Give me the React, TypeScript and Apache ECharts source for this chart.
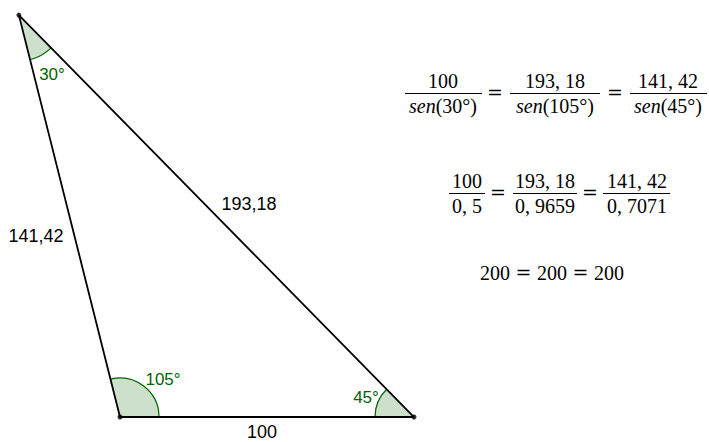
import React, { useEffect, useRef } from "react";
import * as echarts from "echarts";

// Triangle vertices (A top, B bottom-left, C bottom-right), in plot units
const vertexNames = ["A", "B", "C"];
const vertexX = [-34.4, 0, 100];
const vertexY = [136.7, 0, 0];
// Angle labels at A, B, C
const angleLabels = ["30°", "105°", "45°"];
// Side lengths labels
const sideAB = "141,42";
const sideAC = "193,18";
const sideBC = "100";

// Law of sines rows
const row1Num = ["100", "193, 18", "141, 42"];
const row1Den = ["30°", "105°", "45°"];
const row2Num = ["100", "193, 18", "141, 42"];
const row2Den = ["0, 5", "0, 9659", "0, 7071"];
const row3 = ["200", "200", "200"];

const ANGLE_R = [46, 39, 39];
const GREEN = "#006400";
const SERIF = "'Liberation Serif', 'Times New Roman', serif";
const EQ_FONT = "'DejaVu Serif', serif";
const SANS = "'Liberation Sans', Arial, sans-serif";

function txt(text: string, x: number, y: number, size: number, family: string, fill = "#000", extra: any = {}) {
  return {
    type: "text",
    x,
    y,
    silent: true,
    style: {
      text,
      fontSize: size,
      fontFamily: family,
      fill,
      align: "center",
      verticalAlign: "middle",
      ...extra,
    },
  };
}

function bar(x1: number, x2: number, y: number) {
  return {
    type: "line",
    silent: true,
    shape: { x1, y1: y, x2, y2: y },
    style: { stroke: "#000", lineWidth: 1 },
  };
}

export default function App() {
  const ref = useRef<HTMLDivElement>(null);
  useEffect(() => {
    if (!ref.current) return;
    const chart = echarts.init(ref.current, null, { renderer: "svg" });

    const graphics: any[] = [];
    // side labels
    graphics.push(txt(sideAB, 36, 236, 18, SANS));
    graphics.push(txt(sideAC, 249, 204, 18, SANS));
    graphics.push(txt(sideBC, 262, 432, 18, SANS));
    // angle labels
    graphics.push(txt(angleLabels[0], 52, 74, 17, SANS, GREEN));
    graphics.push(txt(angleLabels[1], 163, 379, 17, SANS, GREEN));
    graphics.push(txt(angleLabels[2], 366, 397, 17, SANS, GREEN));

    // Row 1
    const r1c = [443, 555, 668];
    const r1w = [[405, 482], [510, 600], [630, 707]];
    r1c.forEach((c, i) => {
      graphics.push(txt(row1Num[i], c, 81, 20, SERIF));
      graphics.push(bar(r1w[i][0], r1w[i][1], 93.5));
      graphics.push(
        txt("{i|sen}(" + row1Den[i] + ")", c, 105.5, 20, SERIF, "#000", {
          rich: { i: { fontStyle: "italic", fontSize: 20, fontFamily: SERIF } },
        })
      );
    });
    graphics.push(txt("=", 495, 92, 19, EQ_FONT));
    graphics.push(txt("=", 615, 92, 19, EQ_FONT));

    // Row 2
    const r2c = [467, 545, 637];
    const r2w = [[449, 485], [513, 577], [603, 670]];
    r2c.forEach((c, i) => {
      graphics.push(txt(row2Num[i], c, 181, 20, SERIF));
      graphics.push(bar(r2w[i][0], r2w[i][1], 193.5));
      graphics.push(txt(row2Den[i], c, 205.5, 20, SERIF));
    });
    graphics.push(txt("=", 498, 192, 19, EQ_FONT));
    graphics.push(txt("=", 590, 192, 19, EQ_FONT));

    // Row 3
    const r3c = [495, 552, 609];
    r3c.forEach((c, i) => graphics.push(txt(row3[i], c, 273, 20, SERIF)));
    graphics.push(txt("=", 523.5, 272, 19, EQ_FONT));
    graphics.push(txt("=", 580.5, 272, 19, EQ_FONT));

    // path: B -> C -> A -> B
    const triPath = [1, 2, 0, 1].map((i) => [vertexX[i], vertexY[i]]);

    const option: any = {
      animation: false,
      grid: { left: 0, right: 0, top: 0, bottom: 0 },
      xAxis: { type: "value", min: -40.82, max: 200.34, show: false },
      yAxis: { type: "value", min: -8.5, max: 141.84, show: false },
      series: [
        {
          type: "custom",
          z: 1,
          silent: true,
          data: vertexX.map((x, i) => [x, vertexY[i]]),
          encode: { x: 0, y: 1 },
          renderItem: (params: any, api: any) => {
            const i = params.dataIndex;
            const j = (i + 1) % 3;
            const k = (i + 2) % 3;
            const p = api.coord([vertexX[i], vertexY[i]]);
            const pj = api.coord([vertexX[j], vertexY[j]]);
            const pk = api.coord([vertexX[k], vertexY[k]]);
            const a1 = Math.atan2(pj[1] - p[1], pj[0] - p[0]);
            const a2 = Math.atan2(pk[1] - p[1], pk[0] - p[0]);
            const TWO = Math.PI * 2;
            const d = (((a2 - a1) % TWO) + TWO) % TWO;
            let s: number, e: number;
            if (d < Math.PI) {
              s = a1;
              e = a1 + d;
            } else {
              s = a2;
              e = a2 + (TWO - d);
            }
            const r = ANGLE_R[i];
            return {
              type: "group",
              children: [
                {
                  type: "sector",
                  shape: { cx: p[0], cy: p[1], r0: 0, r, startAngle: s, endAngle: e, clockwise: true },
                  style: { fill: "rgba(0,100,0,0.2)", stroke: "none" },
                },
                {
                  type: "arc",
                  shape: { cx: p[0], cy: p[1], r, startAngle: s, endAngle: e, clockwise: true },
                  style: { stroke: GREEN, lineWidth: 1.2, fill: "none" },
                },
              ],
            };
          },
        },
        {
          type: "line",
          z: 2,
          silent: true,
          data: triPath,
          symbol: "none",
          lineStyle: { color: "#000", width: 1.8 },
        },
        {
          type: "scatter",
          z: 3,
          silent: true,
          data: vertexX.map((x, i) => [x, vertexY[i], vertexNames[i]]),
          symbol: "circle",
          symbolSize: 5,
          itemStyle: { color: "#000" },
        },
      ],
      graphic: graphics,
    };
    chart.setOption(option);
    return () => chart.dispose();
  }, []);
  return (
    <div
      ref={ref}
      style={{ position: "absolute", left: 0, top: 0, width: 709, height: 442, background: "#fff" }}
    />
  );
}
